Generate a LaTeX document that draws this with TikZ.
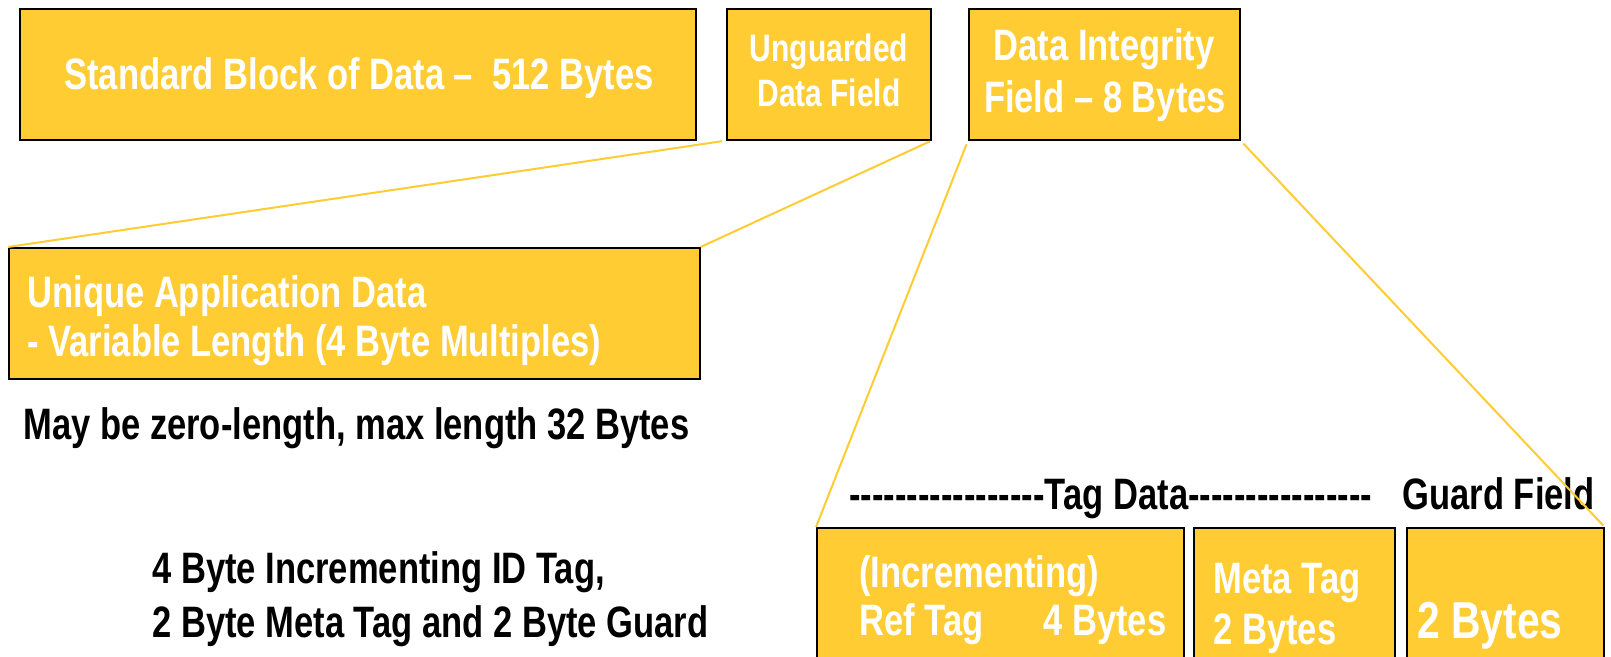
\documentclass[tikz,border=0pt]{standalone}
\usepackage{fontspec}
\setmainfont{Liberation Sans}[FakeStretch=0.785, Ligatures=TeXOff]
\definecolor{difyellow}{RGB}{255,204,51}
\tikzset{
  fieldbox/.style={draw=black, line width=0.8pt, fill=difyellow, anchor=north west, inner sep=0pt},
  wlabel/.style={text=white, inner sep=0pt, font=\bfseries\fontsize{22}{24}\selectfont},
  slabel/.style={text=white, inner sep=0pt, font=\bfseries\fontsize{19.1}{22}\selectfont},
  llabel/.style={text=white, inner sep=0pt, font=\bfseries\fontsize{26}{28}\selectfont},
  blabel/.style={text=black, inner sep=0pt, font=\bfseries\fontsize{22}{24}\selectfont},
  link/.style={draw=difyellow, line width=1pt},
}
\begin{document}
\begin{tikzpicture}[x=0.5pt, y=-0.5pt]
\clip (0,0) rectangle (1611,657);
\fill[white] (0,0) rectangle (1611,657);

% top row: block, unguarded field, DIF
\node[fieldbox, minimum width=338pt, minimum height=65.5pt] (sb) at (19,8) {};
\node[fieldbox, minimum width=102pt, minimum height=65.5pt] (ug) at (726,8) {};
\node[fieldbox, minimum width=135.5pt, minimum height=65.5pt] (dif) at (968,8) {};

\node[wlabel, anchor=base] (sbt) at (359,90) {Standard Block of Data –\ \ 512 Bytes};
\node[slabel, anchor=base] (ugt1) at (829,62) {Unguarded};
\node[slabel, anchor=base] (ugt2) at (829,107) {Data Field};
\node[wlabel, anchor=base] (dift1) at (1104,61) {Data Integrity};
\node[wlabel, anchor=base] (dift2) at (1105,113) {Field – 8 Bytes};

% application tag area
\node[fieldbox, minimum width=345.5pt, minimum height=65.5pt] (uad) at (8,247) {};
\node[wlabel, anchor=base west] (uadt1) at (27,308) {Unique Application Data};
\node[wlabel, anchor=base west] (uadt2) at (27,357) {- Variable Length (4 Byte Multiples)};
\node[blabel, anchor=base west] (note1) at (23,439) {May be zero-length, max length 32 Bytes};

% DIF breakdown
\node[blabel, anchor=base west] (tagdata) at (849,509) {-----------------Tag Data----------------};
\node[blabel, anchor=base east] (guardlbl) at (1595,509) {Guard Field};

\node[fieldbox, minimum width=183.5pt, minimum height=71.5pt] (ref) at (816,527) {};
\node[fieldbox, minimum width=100.5pt, minimum height=71.5pt] (meta) at (1193,527) {};
\node[fieldbox, minimum width=98.5pt, minimum height=71.5pt] (grd) at (1406,527) {};

\node[wlabel, anchor=base west] (reft1) at (859,587) {(Incrementing)};
\node[wlabel, anchor=base west] (reft2) at (859,635) {Ref Tag};
\node[wlabel, anchor=base west] (reft3) at (1043,635) {4 Bytes};
\node[wlabel, anchor=base west] (metat1) at (1213,593) {Meta Tag};
\node[wlabel, anchor=base west] (metat2) at (1213,644) {2 Bytes};
\node[llabel, anchor=base] (grdt) at (1490,638) {2 Bytes};

\node[blabel, anchor=base west] (note2) at (152,583) {4 Byte Incrementing ID Tag,};
\node[blabel, anchor=base west] (note3) at (152,637) {2 Byte Meta Tag and 2 Byte Guard};

% expansion lines
\draw[link, shorten <=2pt] (ug.south west) -- (uad.north west);
\draw[link, shorten <=1pt] (ug.south east) -- (uad.north east);
\draw[link, shorten <=2pt] (dif.south west) -- (ref.north west);
\draw[link, shorten <=2pt, shorten >=1pt] (dif.south east) -- (grd.north east);
\end{tikzpicture}
\end{document}
